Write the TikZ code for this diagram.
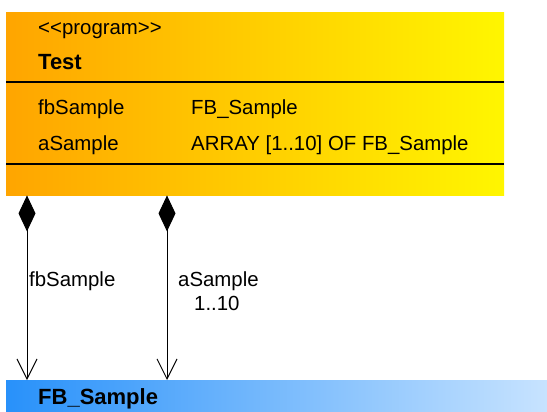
\documentclass[tikz,border=0pt]{standalone}
\usepackage{fontspec}
\setmainfont{Liberation Sans}
\usetikzlibrary{arrows.meta}
\definecolor{progleft}{RGB}{255,165,0}
\definecolor{progright}{RGB}{255,246,0}
\definecolor{fbleft}{RGB}{40,145,250}
\definecolor{fbright}{RGB}{205,230,255}

\begin{document}
\begin{tikzpicture}[x=1pt, y=-1pt, font=\fontsize{20.4}{24}\selectfont,
  txt/.style={anchor=base west, inner sep=0pt},
  bold/.style={font=\fontsize{22}{26}\selectfont\bfseries},
  comp/.style={{Diamond[length=36pt,width=17pt]}-{Straight Barb[length=20pt,width=20pt]}, line width=1pt}]
  \clip (0,0) rectangle (547,412);
  \fill[white] (0,0) rectangle (547,412);

  % program block
  \node[anchor=north west, inner sep=0pt, minimum width=498pt, minimum height=183pt,
    left color=progleft, right color=progright] (prog) at (6,12) {};
  \draw[line width=1.2pt] ([yshift=-70pt]prog.north west) -- ([yshift=-70pt]prog.north east);
  \draw[line width=1.2pt] ([yshift=-152pt]prog.north west) -- ([yshift=-152pt]prog.north east);
  \node[txt] (stereo) at (38,35) {{<}{<}program{>}{>}};
  \node[txt, bold] (name) at (38,70) {Test};
  \node[txt] (var1) at (38,115) {fbSample};
  \node[txt] (type1) at (191,115) {FB\_Sample};
  \node[txt] (var2) at (38,150) {aSample};
  \node[txt] (type2) at (191,150) {ARRAY [1..10] OF FB\_Sample};

  % function block
  \node[anchor=north west, inner sep=0pt, minimum width=560pt, minimum height=40pt,
    left color=fbleft, right color=fbright] (fb) at (6,380) {};
  \node[txt, bold] (fbname) at (38,404) {FB\_Sample};

  % compositions
  \coordinate (c1) at ([xshift=21pt]prog.south west);
  \coordinate (c2) at ([xshift=161pt]prog.south west);
  \draw[comp] (c1) -- (c1 |- fb.north);
  \draw[comp] (c2) -- (c2 |- fb.north);
  \node[txt] (role1) at (29,286) {fbSample};
  \node[txt] (role2) at (178,286) {aSample};
  \node[txt] (mult2) at (194,310) {1..10};
\end{tikzpicture}
\end{document}
